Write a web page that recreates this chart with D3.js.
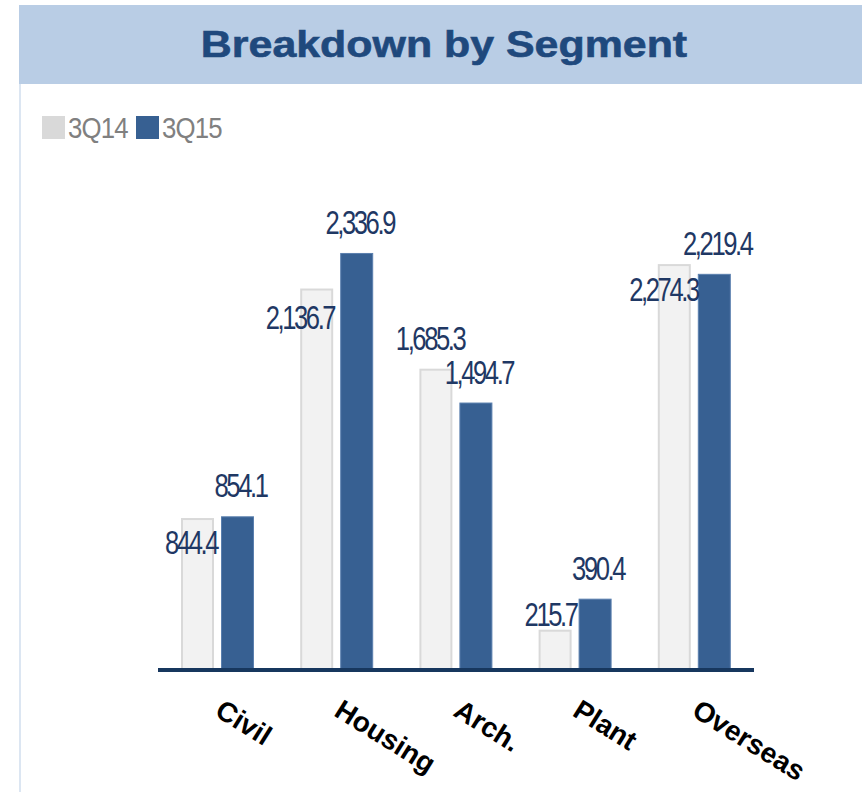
<!DOCTYPE html>
<html>
<head>
<meta charset="utf-8">
<script src="https://cdn.jsdelivr.net/npm/d3@7/dist/d3.min.js"></script>
<style>
  html, body { margin: 0; padding: 0; background: #ffffff; }
  svg { display: block; }
</style>
</head>
<body>
<svg id="chart" width="862" height="792"></svg>
<script>
// ---- data ----
const categories = ["Civil", "Housing", "Arch.", "Plant", "Overseas"];
const seriesNames = ["3Q14", "3Q15"];
const values3Q14 = [844.4, 2136.7, 1685.3, 215.7, 2274.3];
const values3Q15 = [854.1, 2336.9, 1494.7, 390.4, 2219.4];
const titleText = "Breakdown by Segment";

// ---- layout (label nudges for 3Q14, as placed in the original) ----
const label14Layout = [
  { dx: 1, dy: 36 },
  { dx: -1, dy: 40 },
  { dx: 10, dy: -19 },
  { dx: 3, dy: -4 },
  { dx: 5, dy: 37 }
];

const fmt = d3.format(",.1f");
const svg = d3.select("#chart");

// title band
svg.append("rect").attr("x", 19).attr("y", 5).attr("width", 843).attr("height", 79).attr("fill", "#b9cde5");
// left frame line
svg.append("rect").attr("x", 19).attr("y", 84).attr("width", 2).attr("height", 708).attr("fill", "#dce6f2");

svg.append("g").attr("transform", "translate(444,57) scale(1.16,1)")
  .append("text")
  .attr("text-anchor", "middle")
  .attr("font-family", "'Liberation Sans', Arial, sans-serif")
  .attr("font-weight", "bold")
  .attr("font-size", 37)
  .attr("fill", "#1f497d")
  .attr("stroke", "#1f497d")
  .attr("stroke-width", 0.6)
  .text(titleText);

// scales
const baseY = 668;
const y = d3.scaleLinear().domain([0, 2500]).range([baseY, baseY - 444]);
const x0 = d3.scaleBand().domain(categories).range([158, 754]).padding(0);
const x1 = d3.scaleBand().domain(seriesNames).range([23, 96]).paddingInner(0.175);

const color = d3.scaleOrdinal().domain(seriesNames).range(["#f2f2f2", "#376092"]);
const stroke = d3.scaleOrdinal().domain(seriesNames).range(["#d9d9d9", "#5a7fae"]);
const legendColor = d3.scaleOrdinal().domain(seriesNames).range(["#d9d9d9", "#376092"]);

const rows = categories.map((c, i) => ({ cat: c, i, vals: [
  { s: "3Q14", v: values3Q14[i] },
  { s: "3Q15", v: values3Q15[i] }
]}));

const groups = svg.append("g").selectAll("g").data(rows).join("g")
  .attr("transform", d => `translate(${x0(d.cat)},0)`);

groups.selectAll("rect").data(d => d.vals).join("rect")
  .attr("x", d => x1(d.s) + (d.s === "3Q14" ? 1 : 0.5))
  .attr("y", d => y(d.v) + (d.s === "3Q14" ? 1 : 0.5))
  .attr("width", d => x1.bandwidth() - (d.s === "3Q14" ? 2 : 1))
  .attr("height", d => baseY - y(d.v))
  .attr("fill", d => color(d.s))
  .attr("stroke", d => stroke(d.s))
  .attr("stroke-width", d => d.s === "3Q14" ? 2 : 1);

// value labels (condensed look)
const labelFont = "'Liberation Sans', Arial, sans-serif";
function condensedLabel(g, tx, ty, anchor, txt) {
  g.append("g").attr("transform", `translate(${tx},${ty}) scale(0.8,1.04)`)
    .append("text")
    .attr("text-anchor", anchor)
    .attr("font-family", labelFont)
    .attr("font-size", 32)
    .attr("letter-spacing", "-3px")
    .attr("fill", "#1f3864")
    .text(txt);
}
const labelLayer = svg.append("g");
rows.forEach(d => {
  const bx = x0(d.cat);
  const l = label14Layout[d.i];
  condensedLabel(labelLayer, bx + x1("3Q14") + x1.bandwidth() + l.dx + 2, y(values3Q14[d.i]) + l.dy, "end", fmt(values3Q14[d.i]));
  condensedLabel(labelLayer, bx + x1("3Q15") + x1.bandwidth() / 2 + 3, y(values3Q15[d.i]) - 19, "middle", fmt(values3Q15[d.i]));
});

// x axis
const axis = svg.append("g").attr("transform", `translate(0,${baseY + 2})`)
  .call(d3.axisBottom(x0).tickSize(0));
axis.select(".domain").remove();
axis.append("line").attr("x1", 158).attr("x2", 754).attr("y1", 0).attr("y2", 0)
  .attr("stroke", "#17375e").attr("stroke-width", 4);
axis.selectAll(".tick text")
  .attr("x", 0).attr("y", 0).attr("dy", 0)
  .attr("text-anchor", "start")
  .attr("transform", "translate(-4,45) rotate(32)")
  .attr("font-family", "'Liberation Sans', Arial, sans-serif")
  .attr("font-weight", "bold")
  .attr("font-size", 28)
  .attr("fill", "#000000");

// legend
const legend = svg.append("g");
const legendX = [42, 136];
seriesNames.forEach((s, i) => {
  legend.append("rect").attr("x", legendX[i]).attr("y", 116).attr("width", 23).attr("height", 23)
    .attr("fill", legendColor(s));
  legend.append("g").attr("transform", `translate(${legendX[i] + 26},138) scale(0.86,1)`)
    .append("text")
    .attr("font-family", labelFont)
    .attr("font-size", 30)
    .attr("letter-spacing", "-1px")
    .attr("fill", "#808080")
    .text(s);
});
</script>
</body>
</html>
